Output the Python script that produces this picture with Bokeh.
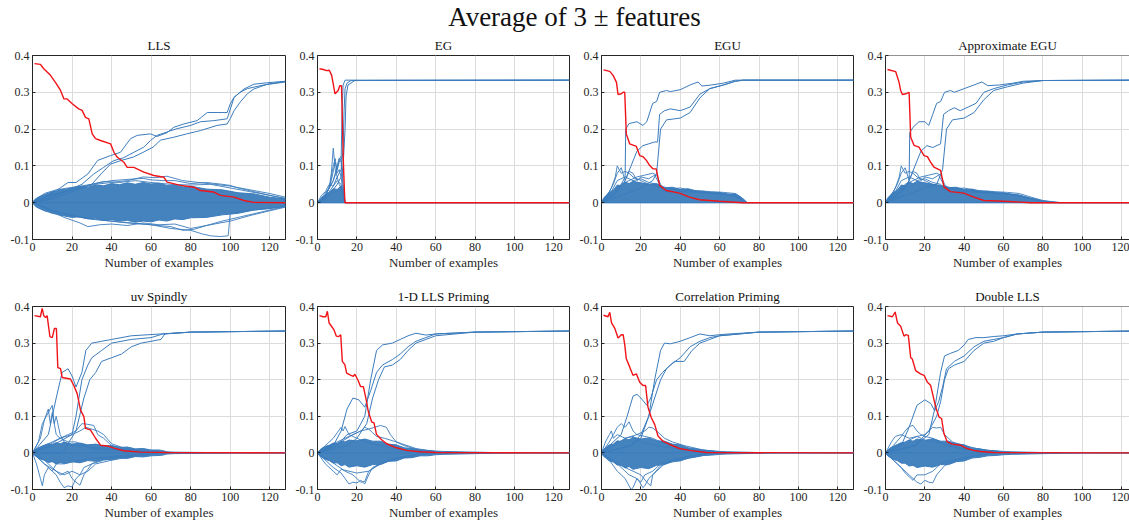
from bokeh.plotting import figure
from bokeh.layouts import column, row
from bokeh.models import Div, FixedTicker, CustomJSTickFormatter, Span, Range1d
from bokeh.embed import file_html
from bokeh.resources import INLINE

PANELS = ["LLS", "EG", "EGU", "Approximate EGU",
          "uv Spindly", "1-D LLS Priming", "Correlation Priming", "Double LLS"]
X_TICKS = [0, 20, 40, 60, 80, 100, 120]
Y_TICKS = [-0.1, 0, 0.1, 0.2, 0.3, 0.4]

# ---- red curve (one per panel) ----
red_x = {
    "LLS": [1, 4, 5.7, 7.4, 9.1, 11.6, 14.2, 15.9, 17.5, 20.1, 23.4, 25.1, 26.8, 28.5, 30.2, 31.9, 34.4, 39.5,
            41.2, 42.8, 46.2, 47.9, 51.3, 56.3, 61.4, 66.5, 68.1, 74.9, 81.6, 85, 91.7, 95.1, 101.9, 107, 112, 128],
    "EG": [1, 3, 4.6, 6, 7.2, 8.9, 10.5, 11.3, 12.2, 13.2, 13.9, 128],
    "EGU": [1, 4.2, 5.9, 7.6, 8.4, 10.1, 11, 11.8, 12.6, 14.3, 17.7, 19.4, 21.1, 22.8, 24.5, 26.1, 27.8, 29.5,
            32.9, 39.6, 44.7, 49.8, 59.9, 71.7, 128],
    "Approximate EGU": [1, 5.2, 6.9, 7.7, 8.6, 10.3, 12, 12.8, 14.5, 17, 19.6, 21.3, 22.9, 24.6, 28, 29.7, 33,
                        39.8, 44.9, 50, 60, 73.6, 128],
    "uv Spindly": [1, 4, 4.9, 5.7, 6.6, 7.4, 8.8, 10, 11.1, 12.1, 12.8, 14.2, 15, 19.2, 20.9, 22.6, 24.3, 26,
                   26.8, 29.3, 31.9, 34.4, 37.8, 41.2, 46.2, 54.6, 68, 128],
    "1-D LLS Priming": [1, 2.8, 4.2, 5, 5.9, 7.1, 8.3, 9.6, 10.8, 11.8, 12.6, 13.9, 14.8, 16.5, 18.2, 19, 20.7,
                        21.9, 23.3, 24.6, 25.8, 27.5, 28.7, 30, 32.6, 35.1, 40.1, 45.2, 51.9, 60, 128],
    "Correlation Priming": [1, 3.3, 4.2, 5.1, 6.7, 8.4, 10.1, 11, 11.8, 12.6, 14.3, 16, 17.7, 19.4, 21.1, 22.4,
                            23.6, 25.3, 27, 28.7, 31.2, 34.6, 39.6, 44.7, 53.2, 128],
    "Double LLS": [1, 3.5, 4.9, 6.1, 7.7, 9.4, 10.3, 11.6, 12.8, 13.6, 15.3, 17.8, 19.6, 21.2, 22.9, 24.3, 25.5,
                   27.2, 28.5, 29.7, 31.4, 33.9, 38.1, 41.4, 44.8, 48.2, 55, 128],
}
red_y = {
    "LLS": [0.378, 0.376, 0.364, 0.355, 0.346, 0.327, 0.305, 0.282, 0.282, 0.269, 0.255, 0.251, 0.232, 0.228,
            0.187, 0.174, 0.169, 0.160, 0.137, 0.124, 0.110, 0.096, 0.096, 0.083, 0.074, 0.069, 0.056, 0.047,
            0.042, 0.033, 0.029, 0.020, 0.015, 0.006, 0.001, 0.0],
    "EG": [0.364, 0.362, 0.359, 0.36, 0.346, 0.296, 0.305, 0.318, 0.318, 0.1, 0.0, 0.0],
    "EGU": [0.361, 0.357, 0.346, 0.327, 0.294, 0.296, 0.3, 0.3, 0.187, 0.16, 0.153, 0.128, 0.125, 0.115, 0.101,
            0.092, 0.092, 0.047, 0.033, 0.026, 0.015, 0.008, 0.004, 0.0, 0.0],
    "Approximate EGU": [0.362, 0.356, 0.327, 0.305, 0.294, 0.296, 0.3, 0.178, 0.156, 0.151, 0.128, 0.125, 0.11,
                        0.097, 0.088, 0.043, 0.03, 0.026, 0.015, 0.006, 0.004, 0.0, 0.0],
    "uv Spindly": [0.375, 0.372, 0.395, 0.375, 0.37, 0.375, 0.318, 0.315, 0.34, 0.34, 0.233, 0.23, 0.206, 0.202,
                   0.184, 0.162, 0.117, 0.099, 0.067, 0.063, 0.04, 0.021, 0.019, 0.013, 0.006, 0.002, 0.001, 0.0],
    "1-D LLS Priming": [0.375, 0.372, 0.372, 0.387, 0.355, 0.346, 0.337, 0.319, 0.318, 0.323, 0.25, 0.241, 0.218,
                        0.213, 0.209, 0.215, 0.197, 0.181, 0.181, 0.149, 0.113, 0.085, 0.082, 0.05, 0.036, 0.025,
                        0.014, 0.007, 0.003, 0.001, 0.0],
    "Correlation Priming": [0.376, 0.372, 0.384, 0.355, 0.341, 0.314, 0.323, 0.323, 0.296, 0.257, 0.235, 0.212,
                            0.216, 0.193, 0.184, 0.184, 0.125, 0.096, 0.078, 0.046, 0.032, 0.023, 0.012, 0.007,
                            0.001, 0.0],
    "Double LLS": [0.375, 0.372, 0.385, 0.355, 0.346, 0.319, 0.323, 0.321, 0.26, 0.257, 0.225, 0.216, 0.212,
                   0.194, 0.185, 0.153, 0.125, 0.098, 0.094, 0.053, 0.03, 0.024, 0.021, 0.012, 0.007, 0.004,
                   0.001, 0.0],
}

# ---- the three relevant weights that converge to 1/3 ----
rise_lines = {
    "LLS": [
        ([0, 8, 14, 18, 22, 28, 33, 39.5, 44.5, 49.6, 53, 59.7, 63, 68, 71.5, 76.6, 83.3, 88.4, 93.4, 98.5, 100,
          101.9, 107, 112, 118.8, 128],
         [0, 0.02, 0.04, 0.055, 0.055, 0.078, 0.115, 0.128, 0.137, 0.174, 0.183, 0.187, 0.18, 0.19, 0.205, 0.214,
          0.223, 0.245, 0.245, 0.245, 0.268, 0.286, 0.309, 0.322, 0.326, 0.33]),
        ([0, 8, 16, 25, 31, 36, 41, 46, 51.3, 56.3, 59.7, 63, 68, 73, 80, 85, 91.7, 98.5, 102, 105, 108.7, 117, 128],
         [0, 0.01, 0.03, 0.05, 0.078, 0.096, 0.114, 0.122, 0.137, 0.151, 0.169, 0.183, 0.192, 0.201, 0.21, 0.22,
          0.223, 0.228, 0.286, 0.3, 0.31, 0.32, 0.328]),
        ([0, 10, 20, 30, 35, 39.5, 45, 51, 56, 61, 64.8, 71.5, 78, 85, 93.4, 98.5, 100, 102, 105, 108.7, 112, 118.8,
          128],
         [0, 0.01, 0.03, 0.05, 0.08, 0.105, 0.115, 0.124, 0.137, 0.151, 0.17, 0.178, 0.187, 0.196, 0.21, 0.214,
          0.228, 0.25, 0.273, 0.296, 0.309, 0.322, 0.33]),
    ],
    "EG": [
        ([0, 4, 8, 10, 11, 12, 12.5, 13, 14, 128], [0, 0.02, 0.06, 0.09, 0.11, 0.12, 0.25, 0.32, 0.333, 0.333]),
        ([0, 4, 8, 10, 12, 13, 13.5, 14, 15, 17, 128],
         [0, 0.015, 0.045, 0.07, 0.09, 0.15, 0.25, 0.31, 0.325, 0.332, 0.333]),
        ([0, 4, 8, 10, 12, 13, 14, 14.5, 15.5, 19, 128],
         [0, 0.01, 0.035, 0.05, 0.07, 0.1, 0.2, 0.29, 0.32, 0.332, 0.333]),
    ],
    "EGU": [
        ([0, 6, 10, 12, 12.3, 14, 18, 21, 23, 26, 28, 29.5, 33, 35, 40, 45, 49, 51, 56, 62, 68, 128],
         [0, 0.02, 0.05, 0.07, 0.2, 0.215, 0.22, 0.21, 0.22, 0.27, 0.275, 0.3, 0.305, 0.302, 0.307, 0.32, 0.328,
          0.317, 0.32, 0.325, 0.333, 0.333]),
        ([0, 8, 12, 15, 18, 21, 24, 27, 28.5, 29.5, 32, 35, 40, 45, 50, 55, 62, 68, 72, 128],
         [0, 0.03, 0.06, 0.1, 0.14, 0.155, 0.16, 0.165, 0.165, 0.24, 0.25, 0.255, 0.25, 0.26, 0.295, 0.31, 0.32,
          0.33, 0.333, 0.333]),
        ([0, 10, 20, 26, 28, 30, 33, 40, 45, 50, 55, 62, 68, 72, 128],
         [0, 0.02, 0.04, 0.06, 0.08, 0.2, 0.225, 0.23, 0.245, 0.285, 0.31, 0.32, 0.33, 0.333, 0.333]),
    ],
    "Approximate EGU": [
        ([0, 6, 10, 12, 12.3, 14, 17, 20, 22, 24, 26, 28, 30, 33, 35, 40, 45, 49, 52, 58, 65, 70, 80, 128],
         [0, 0.02, 0.04, 0.06, 0.19, 0.205, 0.22, 0.22, 0.21, 0.24, 0.27, 0.275, 0.3, 0.305, 0.3, 0.31, 0.32,
          0.328, 0.318, 0.32, 0.325, 0.33, 0.332, 0.333]),
        ([0, 8, 12, 15, 18, 21, 24, 28, 29.5, 32, 35, 38, 42, 46, 50, 55, 62, 70, 80, 128],
         [0, 0.03, 0.06, 0.1, 0.14, 0.155, 0.15, 0.16, 0.24, 0.25, 0.258, 0.25, 0.26, 0.27, 0.3, 0.31, 0.32,
          0.328, 0.332, 0.333]),
        ([0, 10, 20, 26, 29, 31, 34, 40, 45, 50, 55, 62, 70, 80, 128],
         [0, 0.02, 0.04, 0.05, 0.09, 0.2, 0.225, 0.23, 0.245, 0.28, 0.305, 0.315, 0.325, 0.332, 0.333]),
    ],
    "uv Spindly": [
        ([0, 8, 12, 15, 18, 20, 22, 25, 27, 30, 35, 40, 50, 65, 80, 128],
         [0, 0.05, 0.15, 0.22, 0.23, 0.21, 0.18, 0.22, 0.28, 0.3, 0.305, 0.31, 0.32, 0.325, 0.33, 0.333]),
        ([0, 10, 20, 22, 25, 28, 30, 35, 40, 50, 60, 66, 80, 128],
         [0, 0.02, 0.05, 0.1, 0.2, 0.24, 0.26, 0.28, 0.3, 0.31, 0.315, 0.325, 0.33, 0.333]),
        ([0, 15, 22, 26, 29, 32, 35, 40, 45, 50, 55, 65, 67, 80, 128],
         [0, 0.0, 0.06, 0.15, 0.2, 0.22, 0.25, 0.26, 0.27, 0.29, 0.3, 0.31, 0.325, 0.33, 0.333]),
    ],
    "1-D LLS Priming": [
        ([0, 10, 15, 20, 24, 27, 30, 33, 38, 42, 46, 50, 55, 60, 80, 128],
         [0, 0.02, 0.05, 0.06, 0.1, 0.2, 0.28, 0.295, 0.3, 0.31, 0.32, 0.327, 0.322, 0.325, 0.33, 0.333]),
        ([0, 8, 12, 15, 18, 21, 24, 27, 30, 33, 38, 42, 46, 50, 55, 60, 80, 128],
         [0, 0.02, 0.06, 0.12, 0.15, 0.145, 0.125, 0.17, 0.22, 0.24, 0.255, 0.27, 0.29, 0.305, 0.315, 0.325,
          0.33, 0.333]),
        ([0, 15, 20, 25, 28, 31, 34, 38, 42, 46, 50, 55, 60, 80, 128],
         [0, 0.02, 0.04, 0.08, 0.15, 0.2, 0.235, 0.24, 0.255, 0.28, 0.3, 0.31, 0.32, 0.33, 0.333]),
    ],
    "Correlation Priming": [
        ([0, 15, 20, 24, 27, 30, 32, 35, 40, 45, 50, 55, 60, 65, 80, 128],
         [0, 0.02, 0.04, 0.1, 0.2, 0.28, 0.3, 0.298, 0.305, 0.315, 0.325, 0.32, 0.323, 0.325, 0.33, 0.333]),
        ([0, 10, 13, 16, 18, 20, 23, 25, 28, 31, 35, 40, 45, 50, 55, 60, 80, 128],
         [0, 0.05, 0.1, 0.155, 0.16, 0.15, 0.13, 0.15, 0.2, 0.22, 0.24, 0.26, 0.29, 0.305, 0.315, 0.32, 0.33,
          0.333]),
        ([0, 15, 20, 24, 27, 30, 33, 37, 42, 46, 50, 55, 60, 80, 128],
         [0, 0.02, 0.05, 0.1, 0.15, 0.2, 0.23, 0.25, 0.25, 0.28, 0.3, 0.31, 0.32, 0.33, 0.333]),
    ],
    "Double LLS": [
        ([0, 15, 22, 25, 28, 30, 33, 37, 40, 42, 46, 50, 55, 60, 67, 80, 128],
         [0, 0.02, 0.05, 0.12, 0.22, 0.265, 0.272, 0.28, 0.295, 0.31, 0.315, 0.315, 0.318, 0.32, 0.325, 0.33,
          0.333]),
        ([0, 8, 12, 16, 20, 23, 25, 27, 29, 31, 35, 40, 45, 50, 55, 60, 67, 80, 128],
         [0, 0.02, 0.07, 0.13, 0.145, 0.135, 0.115, 0.14, 0.18, 0.23, 0.25, 0.265, 0.29, 0.305, 0.31, 0.315,
          0.325, 0.33, 0.333]),
        ([0, 15, 22, 26, 28, 30, 32, 35, 40, 45, 50, 55, 60, 67, 80, 128],
         [0, 0.02, 0.06, 0.1, 0.14, 0.2, 0.23, 0.24, 0.25, 0.28, 0.3, 0.305, 0.315, 0.325, 0.33, 0.333]),
    ],
}

# ---- dense band of irrelevant weights: upper / lower envelope ----
GRID_A = [0, 1, 2, 4, 6, 8, 10, 12, 14, 16, 20, 24, 28, 32, 36, 40, 44, 48, 52, 56, 60, 64, 68, 72, 76, 80, 88,
          96, 104, 112, 120, 128]
GRID_P = [0, 1, 2, 4, 6, 8, 10, 12, 14, 16, 20, 24, 28, 32, 36, 40, 44, 48, 52, 56, 60, 64, 72, 80, 90, 100, 128]
band_x = {
    "LLS": GRID_A,
    "EG": [0, 1, 2, 4, 6, 8, 10, 12, 13, 14, 128],
    "EGU": [0, 1, 2, 4, 6, 8, 10, 12, 14, 16, 20, 24, 28, 32, 36, 40, 44, 48, 52, 56, 60, 64, 68, 70, 72, 74, 128],
    "Approximate EGU": [0, 1, 2, 4, 6, 8, 10, 12, 14, 16, 20, 24, 28, 32, 36, 40, 44, 48, 52, 56, 60, 64, 68, 72,
                        76, 80, 84, 88, 128],
    "uv Spindly": [0, 1, 2, 4, 6, 8, 10, 12, 14, 16, 20, 24, 28, 32, 36, 40, 44, 48, 52, 56, 60, 64, 66, 68, 72,
                   80, 90, 100, 110, 128],
    "1-D LLS Priming": GRID_P,
    "Correlation Priming": GRID_P,
    "Double LLS": GRID_P,
}
band_hi = {
    "LLS": [0, 0.008, 0.012, 0.018, 0.022, 0.026, 0.03, 0.031, 0.035, 0.036, 0.04, 0.044, 0.042, 0.048, 0.046,
            0.052, 0.049, 0.054, 0.05, 0.055, 0.051, 0.053, 0.047, 0.048, 0.043, 0.045, 0.037, 0.035, 0.027, 0.024,
            0.015, 0.01],
    "EG": [0, 0.006, 0.012, 0.022, 0.028, 0.038, 0.036, 0.046, 0.03, 0.0, 0.0],
    "EGU": [0, 0.012, 0.018, 0.028, 0.034, 0.048, 0.046, 0.056, 0.052, 0.058, 0.054, 0.05, 0.052, 0.04, 0.042,
            0.036, 0.038, 0.032, 0.031, 0.027, 0.028, 0.023, 0.024, 0.018, 0.01, 0.0, 0.0],
    "Approximate EGU": [0, 0.012, 0.018, 0.028, 0.034, 0.048, 0.046, 0.056, 0.052, 0.058, 0.054, 0.05, 0.047,
                        0.041, 0.042, 0.036, 0.037, 0.031, 0.031, 0.027, 0.027, 0.022, 0.021, 0.014, 0.009, 0.004,
                        0.002, 0.0, 0.0],
    "uv Spindly": [0, 0.006, 0.011, 0.017, 0.021, 0.025, 0.023, 0.028, 0.025, 0.029, 0.024, 0.027, 0.022, 0.024,
                   0.019, 0.02, 0.015, 0.016, 0.011, 0.012, 0.008, 0.008, 0.006, 0.003, 0.002, 0.0015, 0.001,
                   0.0005, 0.0, 0.0],
    "1-D LLS Priming": [0, 0.007, 0.012, 0.018, 0.021, 0.027, 0.025, 0.032, 0.03, 0.035, 0.033, 0.038, 0.032,
                        0.032, 0.024, 0.022, 0.014, 0.012, 0.008, 0.007, 0.005, 0.004, 0.003, 0.002, 0.001, 0.0,
                        0.0],
    "Correlation Priming": [0, 0.009, 0.014, 0.022, 0.024, 0.033, 0.031, 0.039, 0.036, 0.043, 0.038, 0.041, 0.033,
                            0.032, 0.024, 0.022, 0.014, 0.011, 0.007, 0.006, 0.004, 0.003, 0.002, 0.001, 0.0005,
                            0.0, 0.0],
    "Double LLS": [0, 0.007, 0.012, 0.018, 0.023, 0.028, 0.028, 0.035, 0.032, 0.038, 0.034, 0.039, 0.032, 0.032,
                   0.025, 0.022, 0.013, 0.011, 0.007, 0.006, 0.004, 0.003, 0.002, 0.001, 0.0005, 0.0, 0.0],
}
band_lo = {
    "LLS": [0, -0.007, -0.012, -0.017, -0.022, -0.025, -0.029, -0.031, -0.034, -0.036, -0.04, -0.038, -0.044,
            -0.042, -0.048, -0.046, -0.05, -0.048, -0.053, -0.05, -0.052, -0.047, -0.05, -0.044, -0.046, -0.041,
            -0.04, -0.033, -0.029, -0.02, -0.016, -0.01],
    "EG": [0, 0, 0, 0, 0, 0, 0, 0, 0, 0, 0],
    "EGU": [0, 0, 0, 0, 0, 0, 0, 0, 0, 0, 0, 0, 0, 0, 0, 0, 0, 0, 0, 0, 0, 0, 0, 0, 0, 0, 0],
    "Approximate EGU": [0, 0, 0, 0, 0, 0, 0, 0, 0, 0, 0, 0, 0, 0, 0, 0, 0, 0, 0, 0, 0, 0, 0, 0, 0, 0, 0, 0, 0],
    "uv Spindly": [0, -0.006, -0.01, -0.017, -0.02, -0.026, -0.024, -0.03, -0.026, -0.029, -0.024, -0.027,
                   -0.021, -0.023, -0.018, -0.019, -0.014, -0.015, -0.01, -0.011, -0.008, -0.007, -0.006,
                   -0.003, -0.002, -0.0015, -0.001, -0.0005, 0.0, 0.0],
    "1-D LLS Priming": [0, -0.007, -0.011, -0.018, -0.021, -0.028, -0.027, -0.035, -0.032, -0.039, -0.035,
                        -0.039, -0.032, -0.032, -0.023, -0.022, -0.014, -0.013, -0.008, -0.008, -0.005, -0.004,
                        -0.003, -0.002, -0.001, 0.0, 0.0],
    "Correlation Priming": [0, -0.009, -0.013, -0.022, -0.025, -0.033, -0.033, -0.041, -0.037, -0.045, -0.04,
                            -0.043, -0.034, -0.032, -0.023, -0.022, -0.014, -0.011, -0.007, -0.006, -0.004,
                            -0.003, -0.002, -0.001, -0.0005, 0.0, 0.0],
    "Double LLS": [0, -0.007, -0.011, -0.018, -0.021, -0.028, -0.028, -0.036, -0.034, -0.04, -0.036, -0.039,
                   -0.032, -0.032, -0.024, -0.022, -0.014, -0.012, -0.008, -0.007, -0.005, -0.004, -0.003,
                   -0.002, -0.001, 0.0, 0.0],
}

# ---- individual irrelevant weights that stray outside the band ----
noise_lines = {
    "LLS": [
        ([0, 10, 20, 30, 40, 50, 56, 60, 66, 72, 80, 88, 96, 100, 104, 112, 120, 128],
         [0, 0.02, 0.035, 0.05, 0.06, 0.064, 0.066, 0.062, 0.06, 0.06, 0.052, 0.055, 0.05, 0.047, 0.04, 0.03,
          0.02, 0.012]),
        ([0, 8, 16, 24, 32, 40, 48, 56, 62, 68, 76, 84, 92, 100, 110, 120, 128],
         [0, 0.018, 0.03, 0.04, 0.05, 0.055, 0.06, 0.07, 0.068, 0.072, 0.06, 0.055, 0.05, 0.045, 0.035, 0.025,
          0.015]),
        ([0, 10, 20, 30, 40, 50, 60, 70, 80, 86, 90, 95, 99, 100, 104, 112, 120, 128],
         [0, -0.02, -0.035, -0.045, -0.05, -0.055, -0.06, -0.07, -0.075, -0.085, -0.09, -0.092, -0.09, -0.03,
          -0.025, -0.02, -0.015, -0.01]),
        ([0, 8, 16, 24, 28, 34, 40, 48, 56, 64, 72, 80, 90, 100, 110, 120, 128],
         [0, -0.02, -0.04, -0.055, -0.065, -0.06, -0.058, -0.062, -0.055, -0.06, -0.058, -0.07, -0.06, -0.05,
          -0.035, -0.022, -0.012]),
        ([0, 12, 24, 36, 48, 60, 70, 76, 82, 88, 96, 104, 112, 120, 128],
         [0, -0.025, -0.04, -0.048, -0.055, -0.06, -0.065, -0.075, -0.072, -0.062, -0.05, -0.04, -0.03, -0.02,
          -0.01]),
        ([0, 6, 12, 18, 24, 30, 36, 44, 52, 60, 70, 80, 90, 100, 110, 120, 128],
         [0, 0.025, 0.035, 0.04, 0.045, 0.05, 0.058, 0.055, 0.06, 0.055, 0.05, 0.048, 0.05, 0.04, 0.03, 0.02,
          0.01]),
    ],
    "EG": [
        ([0, 2, 4, 6, 7, 8, 9, 10, 11, 12, 13, 14], [0, 0.01, 0.02, 0.04, 0.08, 0.148, 0.09, 0.07, 0.05, 0.04, 0.02, 0.0]),
        ([0, 2, 4, 6, 8, 10, 11, 12, 13, 14], [0, 0.01, 0.02, 0.04, 0.06, 0.1, 0.12, 0.125, 0.05, 0.0]),
        ([0, 3, 5, 7, 9, 10, 11, 12, 13, 14], [0, 0.01, 0.03, 0.06, 0.11, 0.09, 0.12, 0.11, 0.04, 0.0]),
        ([0, 3, 6, 8, 9, 10, 11, 12, 13.5], [0, 0.02, 0.04, 0.1, 0.12, 0.08, 0.09, 0.07, 0.0]),
        ([0, 2, 4, 6, 8, 10, 12, 13, 14], [0, 0.02, 0.03, 0.05, 0.045, 0.06, 0.05, 0.02, 0.0]),
    ],
    "EGU": [
        ([0, 3, 5, 7, 8, 9, 10, 12, 14, 16, 20, 24, 28, 32, 36, 40, 44, 50, 56, 62, 68, 72, 74],
         [0, 0.02, 0.04, 0.07, 0.1, 0.09, 0.08, 0.085, 0.08, 0.07, 0.06, 0.05, 0.045, 0.04, 0.038, 0.04, 0.035,
          0.032, 0.03, 0.028, 0.025, 0.01, 0.0]),
        ([0, 4, 6, 8, 10, 12, 14, 16, 18, 20, 24, 27, 30, 34, 40, 48, 56, 64, 70, 73],
         [0, 0.03, 0.05, 0.08, 0.095, 0.06, 0.085, 0.08, 0.06, 0.07, 0.065, 0.075, 0.045, 0.04, 0.035, 0.03,
          0.026, 0.024, 0.015, 0.0]),
        ([0, 5, 8, 12, 16, 20, 24, 28, 32, 40, 48, 56, 64, 70, 73],
         [0, 0.03, 0.06, 0.07, 0.06, 0.065, 0.055, 0.05, 0.03, 0.03, 0.028, 0.025, 0.022, 0.012, 0.0]),
        ([0, 6, 10, 14, 18, 22, 26, 28, 30, 32, 36, 44, 52, 60, 68, 72],
         [0, 0.03, 0.05, 0.06, 0.07, 0.075, 0.08, 0.075, 0.05, 0.038, 0.035, 0.03, 0.028, 0.025, 0.02, 0.0]),
    ],
    "Approximate EGU": [
        ([0, 3, 5, 7, 8, 9, 10, 12, 14, 16, 20, 24, 28, 32, 36, 40, 44, 50, 56, 62, 68, 74, 80, 86, 90],
         [0, 0.02, 0.04, 0.07, 0.1, 0.09, 0.08, 0.085, 0.08, 0.07, 0.06, 0.05, 0.045, 0.04, 0.038, 0.04, 0.035,
          0.032, 0.03, 0.028, 0.025, 0.015, 0.006, 0.002, 0.0]),
        ([0, 4, 6, 8, 10, 12, 14, 16, 18, 20, 24, 27, 30, 34, 40, 48, 56, 64, 72, 80, 88],
         [0, 0.03, 0.05, 0.08, 0.095, 0.06, 0.085, 0.08, 0.06, 0.07, 0.065, 0.075, 0.045, 0.04, 0.035, 0.03,
          0.026, 0.024, 0.015, 0.005, 0.0]),
        ([0, 5, 8, 12, 16, 20, 24, 28, 32, 40, 48, 56, 64, 72, 80, 88],
         [0, 0.03, 0.06, 0.07, 0.06, 0.065, 0.055, 0.05, 0.03, 0.03, 0.028, 0.025, 0.022, 0.012, 0.004, 0.0]),
        ([0, 6, 10, 14, 18, 22, 26, 28, 30, 32, 36, 44, 52, 60, 68, 76, 84],
         [0, 0.03, 0.05, 0.06, 0.07, 0.075, 0.08, 0.075, 0.05, 0.038, 0.035, 0.03, 0.028, 0.025, 0.02, 0.008,
          0.0]),
    ],
    "uv Spindly": [
        ([0, 3, 5, 7, 9, 10, 11, 12, 14, 16, 20, 24, 28, 32, 36, 40, 48, 56, 64],
         [0, 0.03, 0.08, 0.1, 0.12, 0.13, 0.08, 0.1, 0.05, 0.03, 0.02, 0.02, 0.015, 0.01, 0.01, 0.008, 0.005,
          0.003, 0.0]),
        ([0, 4, 6, 8, 9, 10, 12, 14, 18, 22, 26, 30, 40, 50, 64],
         [0, 0.04, 0.09, 0.12, 0.08, 0.11, 0.05, 0.04, 0.03, 0.03, 0.02, 0.015, 0.01, 0.005, 0.0]),
        ([0, 2, 4, 5, 6, 8, 10, 12, 16, 20, 24, 30, 40, 50, 64],
         [0, -0.03, -0.07, -0.09, -0.06, -0.04, -0.05, -0.03, -0.03, -0.025, -0.02, -0.015, -0.01, -0.005, 0.0]),
        ([0, 4, 8, 10, 12, 14, 16, 18, 20, 22, 24, 26, 30, 36, 44, 56, 66],
         [0, -0.02, -0.04, -0.05, -0.06, -0.08, -0.095, -0.09, -0.093, -0.07, -0.06, -0.04, -0.03, -0.02,
          -0.012, -0.006, 0.0]),
        ([0, 6, 10, 14, 18, 20, 22, 24, 26, 28, 30, 34, 40, 50, 66],
         [0, -0.02, -0.04, -0.06, -0.05, -0.07, -0.08, -0.088, -0.06, -0.045, -0.03, -0.02, -0.012, -0.006, 0.0]),
        ([0, 6, 10, 14, 18, 22, 25, 28, 31, 33, 36, 40, 44, 50, 60, 66],
         [0, 0.02, 0.03, 0.04, 0.05, 0.06, 0.08, 0.078, 0.075, 0.05, 0.04, 0.02, 0.015, 0.008, 0.003, 0.0]),
        ([0, 8, 14, 20, 24, 27, 30, 33, 36, 40, 48, 60, 66],
         [0, 0.02, 0.04, 0.05, 0.06, 0.07, 0.065, 0.06, 0.05, 0.025, 0.01, 0.004, 0.0]),
        ([0, 6, 12, 16, 20, 24, 28, 32, 40, 50, 66],
         [0, -0.03, -0.05, -0.06, -0.05, -0.06, -0.05, -0.03, -0.02, -0.01, 0.0]),
    ],
    "1-D LLS Priming": [
        ([0, 4, 8, 10, 12, 13, 14, 16, 18, 20, 24, 28, 32, 40, 50, 60],
         [0, 0.02, 0.04, 0.055, 0.07, 0.06, 0.072, 0.05, 0.045, 0.04, 0.03, 0.025, 0.02, 0.01, 0.005, 0.0]),
        ([0, 6, 12, 18, 22, 26, 29, 32, 35, 37, 40, 44, 50, 60],
         [0, 0.02, 0.03, 0.05, 0.06, 0.065, 0.07, 0.075, 0.07, 0.05, 0.03, 0.02, 0.01, 0.003]),
        ([0, 8, 14, 18, 22, 24, 26, 28, 30, 34, 40, 50, 60],
         [0, 0.025, 0.04, 0.05, 0.06, 0.07, 0.065, 0.055, 0.045, 0.04, 0.03, 0.012, 0.003]),
        ([0, 4, 8, 12, 14, 16, 18, 20, 22, 24, 26, 28, 32, 40, 50, 60],
         [0, -0.02, -0.04, -0.055, -0.07, -0.085, -0.08, -0.082, -0.075, -0.085, -0.06, -0.04, -0.03, -0.015,
          -0.008, 0.0]),
        ([0, 6, 10, 14, 18, 20, 22, 24, 26, 30, 36, 44, 56],
         [0, -0.02, -0.035, -0.05, -0.06, -0.07, -0.08, -0.078, -0.05, -0.035, -0.02, -0.01, 0.0]),
        ([0, 4, 8, 10, 12, 16, 20, 26, 32, 40, 50],
         [0, -0.03, -0.05, -0.06, -0.045, -0.05, -0.055, -0.05, -0.03, -0.015, -0.005]),
    ],
    "Correlation Priming": [
        ([0, 4, 6, 8, 10, 12, 14, 16, 18, 22, 26, 30, 36, 44, 56],
         [0, 0.03, 0.05, 0.07, 0.08, 0.07, 0.085, 0.06, 0.05, 0.045, 0.04, 0.03, 0.02, 0.01, 0.0]),
        ([0, 6, 12, 18, 22, 24, 26, 28, 32, 36, 42, 50, 60],
         [0, 0.02, 0.04, 0.05, 0.06, 0.07, 0.068, 0.06, 0.04, 0.03, 0.02, 0.01, 0.002]),
        ([0, 4, 8, 10, 12, 14, 15, 16, 18, 20, 22, 26, 30, 36, 44, 56],
         [0, -0.02, -0.05, -0.06, -0.07, -0.09, -0.1, -0.095, -0.07, -0.08, -0.06, -0.05, -0.03, -0.02, -0.01,
          0.0]),
        ([0, 6, 10, 14, 18, 20, 21, 22, 24, 26, 30, 36, 44, 56],
         [0, -0.02, -0.04, -0.06, -0.07, -0.085, -0.095, -0.09, -0.07, -0.06, -0.035, -0.02, -0.01, 0.0]),
        ([0, 8, 12, 16, 20, 23, 25, 26, 28, 32, 40, 50, 60],
         [0, -0.03, -0.04, -0.05, -0.06, -0.08, -0.09, -0.06, -0.05, -0.03, -0.02, -0.008, 0.0]),
        ([0, 2, 4, 5, 6, 8, 12, 16, 20, 28, 40, 56],
         [0, 0.03, 0.05, 0.06, 0.04, 0.05, 0.04, 0.045, 0.03, 0.02, 0.01, 0.0]),
    ],
    "Double LLS": [
        ([0, 4, 8, 10, 12, 14, 16, 18, 20, 24, 28, 32, 40, 50, 60],
         [0, 0.02, 0.045, 0.06, 0.072, 0.075, 0.06, 0.05, 0.045, 0.04, 0.03, 0.02, 0.01, 0.004, 0.0]),
        ([0, 6, 12, 16, 20, 22, 24, 26, 28, 30, 34, 40, 48, 60],
         [0, 0.02, 0.035, 0.045, 0.05, 0.06, 0.07, 0.068, 0.07, 0.05, 0.03, 0.02, 0.01, 0.002]),
        ([0, 4, 8, 12, 14, 16, 18, 20, 22, 24, 26, 30, 36, 44, 56],
         [0, -0.02, -0.04, -0.06, -0.07, -0.08, -0.085, -0.075, -0.08, -0.082, -0.06, -0.035, -0.02, -0.01, 0.0]),
        ([0, 4, 8, 10, 12, 14, 16, 20, 24, 28, 34, 44, 56],
         [0, -0.02, -0.04, -0.055, -0.065, -0.075, -0.06, -0.06, -0.05, -0.03, -0.02, -0.008, 0.0]),
        ([0, 3, 5, 8, 12, 16, 20, 26, 32, 40, 56],
         [0, 0.03, 0.045, 0.05, 0.04, 0.045, 0.035, 0.03, 0.02, 0.01, 0.0]),
    ],
}
zero_x = [0, 128]
zero_y = [0, 0]

BLUE = "#3b7cbc"
RED = "#f01418"
AX = "#262626"
GRID = "#dcdcdc"
FONT = "Liberation Serif"

figs = []
for i, name in enumerate(PANELS):
    r, c = divmod(i, 4)
    first, last = (c == 0), (c == 3)
    left = 32 if first else 24
    right = 0 if last else 7
    frame_w = 245 if last else 253
    top = 23
    bottom = 44 if r == 0 else 32
    p = figure(width=left + frame_w + right, height=top + 184 + bottom,
               x_range=Range1d(0, 124 if last else 128), y_range=Range1d(-0.1, 0.4),
               output_backend="svg", toolbar_location=None, tools="",
               min_border_left=left, min_border_right=right,
               min_border_top=top, min_border_bottom=bottom,
               background_fill_color="white", border_fill_color="white", margin=(0, 0, 0, 0))
    p.title.text = name
    p.title.text_font = FONT
    p.title.text_font_style = "normal"
    p.title.text_font_size = "13px"
    p.title.text_color = "#111111"
    p.title.align = "center"
    p.title.standoff = 6
    if last:
        p.outline_line_color = None
        p.add_layout(Span(location=0.4, dimension="width", line_color=AX, line_width=1))
    else:
        p.outline_line_color = AX
        p.outline_line_width = 1

    xt = FixedTicker(ticks=X_TICKS)
    yt = FixedTicker(ticks=Y_TICKS)
    p.xaxis.ticker = xt
    p.yaxis.ticker = yt
    p.xgrid.ticker = xt
    p.ygrid.ticker = yt
    p.grid.grid_line_color = GRID
    p.grid.grid_line_width = 1
    p.yaxis.formatter = CustomJSTickFormatter(
        code="return Math.abs(tick) < 1e-9 ? '0' : tick.toFixed(1);")
    for ax in (p.xaxis[0], p.yaxis[0]):
        ax.axis_line_color = AX
        ax.major_tick_line_color = AX
        ax.major_tick_in = 3
        ax.major_tick_out = 0
        ax.minor_tick_line_color = None
        ax.major_label_text_font = FONT
        ax.major_label_text_font_size = "12px"
        ax.major_label_text_color = AX
        ax.major_label_standoff = 3
    p.xaxis.axis_label = "Number of examples"
    p.xaxis.axis_label_text_font = FONT
    p.xaxis.axis_label_text_font_style = "normal"
    p.xaxis.axis_label_text_font_size = "13px"
    p.xaxis.axis_label_text_color = AX
    p.xaxis.axis_label_standoff = 1

    # dense band
    p.varea(x=band_x[name], y1=band_lo[name], y2=band_hi[name], fill_color=BLUE, fill_alpha=0.95)
    p.line(band_x[name], band_hi[name], line_color=BLUE, line_width=1)
    p.line(band_x[name], band_lo[name], line_color=BLUE, line_width=1)
    p.line(zero_x, zero_y, line_color=BLUE, line_width=1)
    for xs, ys in noise_lines[name]:
        p.line(xs, ys, line_color=BLUE, line_width=1, line_alpha=0.9)
    for xs, ys in rise_lines[name]:
        p.line(xs, ys, line_color=BLUE, line_width=1)
    p.line(red_x[name], red_y[name], line_color=RED, line_width=1.4)
    figs.append(p)

title = Div(text='<div style="width:1129px;height:32px;text-align:center;font-family:\'Liberation Serif\',serif;'
                 'font-size:27px;line-height:34px;color:#111;padding-left:20px;box-sizing:border-box;">'
                 'Average of 3 &plusmn; features</div>',
            width=1129, height=32, margin=(0, 0, 0, 0))

layout = column(title, row(*figs[:4], spacing=0), row(*figs[4:], spacing=0), spacing=0)
open("out.html", "w").write(file_html(layout, INLINE))
